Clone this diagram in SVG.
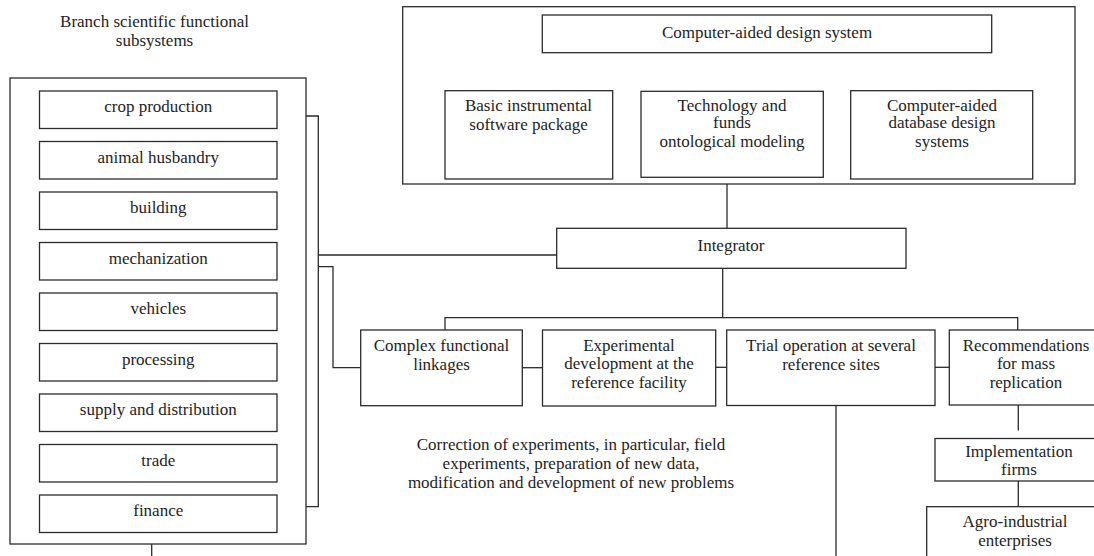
<svg xmlns="http://www.w3.org/2000/svg" width="1094" height="556" viewBox="0 0 1094 556">
<style>
rect{fill:#fff;stroke:#2b2b2b;stroke-width:1.3}
.c line,.c polyline{fill:none;stroke:#2b2b2b;stroke-width:1.3}
text{font-family:"Liberation Serif","Times New Roman",serif;font-size:17px;fill:#1e1e1e;text-anchor:middle}
</style>
<rect x="0" y="0" width="1094" height="556" style="stroke:none"/>
<g id="title"><text x="154.5" y="27">Branch scientific functional</text><text x="154.5" y="46">subsystems</text></g>
<g id="branch-subsystems"><rect x="10" y="78" width="296" height="466"/></g>
<g id="crop-production"><rect x="39.5" y="91" width="237.5" height="37.5"/><text x="158.25" y="112">crop production</text></g>
<g id="animal-husbandry"><rect x="39.5" y="141.5" width="237.5" height="37.5"/><text x="158.25" y="162.5">animal husbandry</text></g>
<g id="building"><rect x="39.5" y="192" width="237.5" height="37.5"/><text x="158.25" y="213">building</text></g>
<g id="mechanization"><rect x="39.5" y="242.5" width="237.5" height="37.5"/><text x="158.25" y="263.5">mechanization</text></g>
<g id="vehicles"><rect x="39.5" y="293" width="237.5" height="37.5"/><text x="158.25" y="314">vehicles</text></g>
<g id="processing"><rect x="39.5" y="343.5" width="237.5" height="37.5"/><text x="158.25" y="364.5">processing</text></g>
<g id="supply"><rect x="39.5" y="394" width="237.5" height="37.5"/><text x="158.25" y="415">supply and distribution</text></g>
<g id="trade"><rect x="39.5" y="444.5" width="237.5" height="37.5"/><text x="158.25" y="465.5">trade</text></g>
<g id="finance"><rect x="39.5" y="495" width="237.5" height="37.5"/><text x="158.25" y="516">finance</text></g>
<g id="cad-outer"><rect x="402.7" y="6.7" width="672.3" height="177.3"/></g>
<g id="cad"><rect x="542.3" y="15" width="449.4" height="37.7"/><text x="767" y="38">Computer-aided design system</text></g>
<g id="basic"><rect x="445" y="90.7" width="167.7" height="88.3"/><text x="528.5" y="110.5">Basic instrumental</text><text x="528.5" y="129.5">software package</text></g>
<g id="technology"><rect x="641" y="91.3" width="182.3" height="86"/><text x="732" y="110.5">Technology and</text><text x="732" y="128">funds</text><text x="732" y="147">ontological modeling</text></g>
<g id="database"><rect x="850.7" y="90.7" width="182" height="88.3"/><text x="942" y="110.5">Computer-aided</text><text x="942" y="128">database design</text><text x="942" y="147">systems</text></g>
<g id="integrator"><rect x="556.7" y="228.3" width="349.3" height="40"/><text x="731" y="250.5">Integrator</text></g>
<g id="complex"><rect x="360.7" y="330" width="161.6" height="75.7"/><text x="441.5" y="350.5">Complex functional</text><text x="441.5" y="369.5">linkages</text></g>
<g id="experimental"><rect x="542.5" y="330" width="173.2" height="76"/><text x="629" y="350.5">Experimental</text><text x="629" y="369">development at the</text><text x="629" y="387.5">reference facility</text></g>
<g id="trial"><rect x="726.7" y="330" width="208.3" height="75.5"/><text x="831" y="350.5">Trial operation at several</text><text x="831" y="369.5">reference sites</text></g>
<g id="recommendations"><rect x="949.3" y="330" width="152.7" height="75"/><text x="1026" y="350.5">Recommendations</text><text x="1026" y="369">for mass</text><text x="1026" y="387.5">replication</text></g>
<g id="implementation"><rect x="935" y="438.5" width="167" height="42.5"/><text x="1019" y="457">Implementation</text><text x="1019" y="474.5">firms</text></g>
<g id="agro"><rect x="926.7" y="506.7" width="175.3" height="63"/><text x="1015" y="527">Agro-industrial</text><text x="1015" y="545.5">enterprises</text></g>
<g id="correction"><text x="571" y="449.5">Correction of experiments, in particular, field</text><text x="571" y="468.5">experiments, preparation of new data,</text><text x="571" y="487.5">modification and development of new problems</text></g>
<g id="connectors" class="c">
<polyline points="306,116 318.3,116 318.3,506.7 306,506.7"/>
<line x1="318.3" y1="255" x2="556.7" y2="255"/>
<polyline points="318.3,266.7 333,266.7 333,367.7 360.7,367.7"/>
<line x1="151.7" y1="544" x2="151.7" y2="556"/>
<line x1="727" y1="184" x2="727" y2="228.3"/>
<line x1="722.7" y1="268.3" x2="722.7" y2="317.7"/>
<polyline points="445,330 445,317.7 1017.7,317.7 1017.7,330"/>
<line x1="522.3" y1="367.7" x2="542.5" y2="367.7"/>
<line x1="715.7" y1="367.3" x2="726.7" y2="367.3"/>
<line x1="935" y1="367.3" x2="949.3" y2="367.3"/>
<line x1="836" y1="405.5" x2="836" y2="556"/>
<line x1="1018.3" y1="405" x2="1018.3" y2="430.5"/>
<line x1="1018.3" y1="481" x2="1018.3" y2="506.7"/>
</g>
</svg>
